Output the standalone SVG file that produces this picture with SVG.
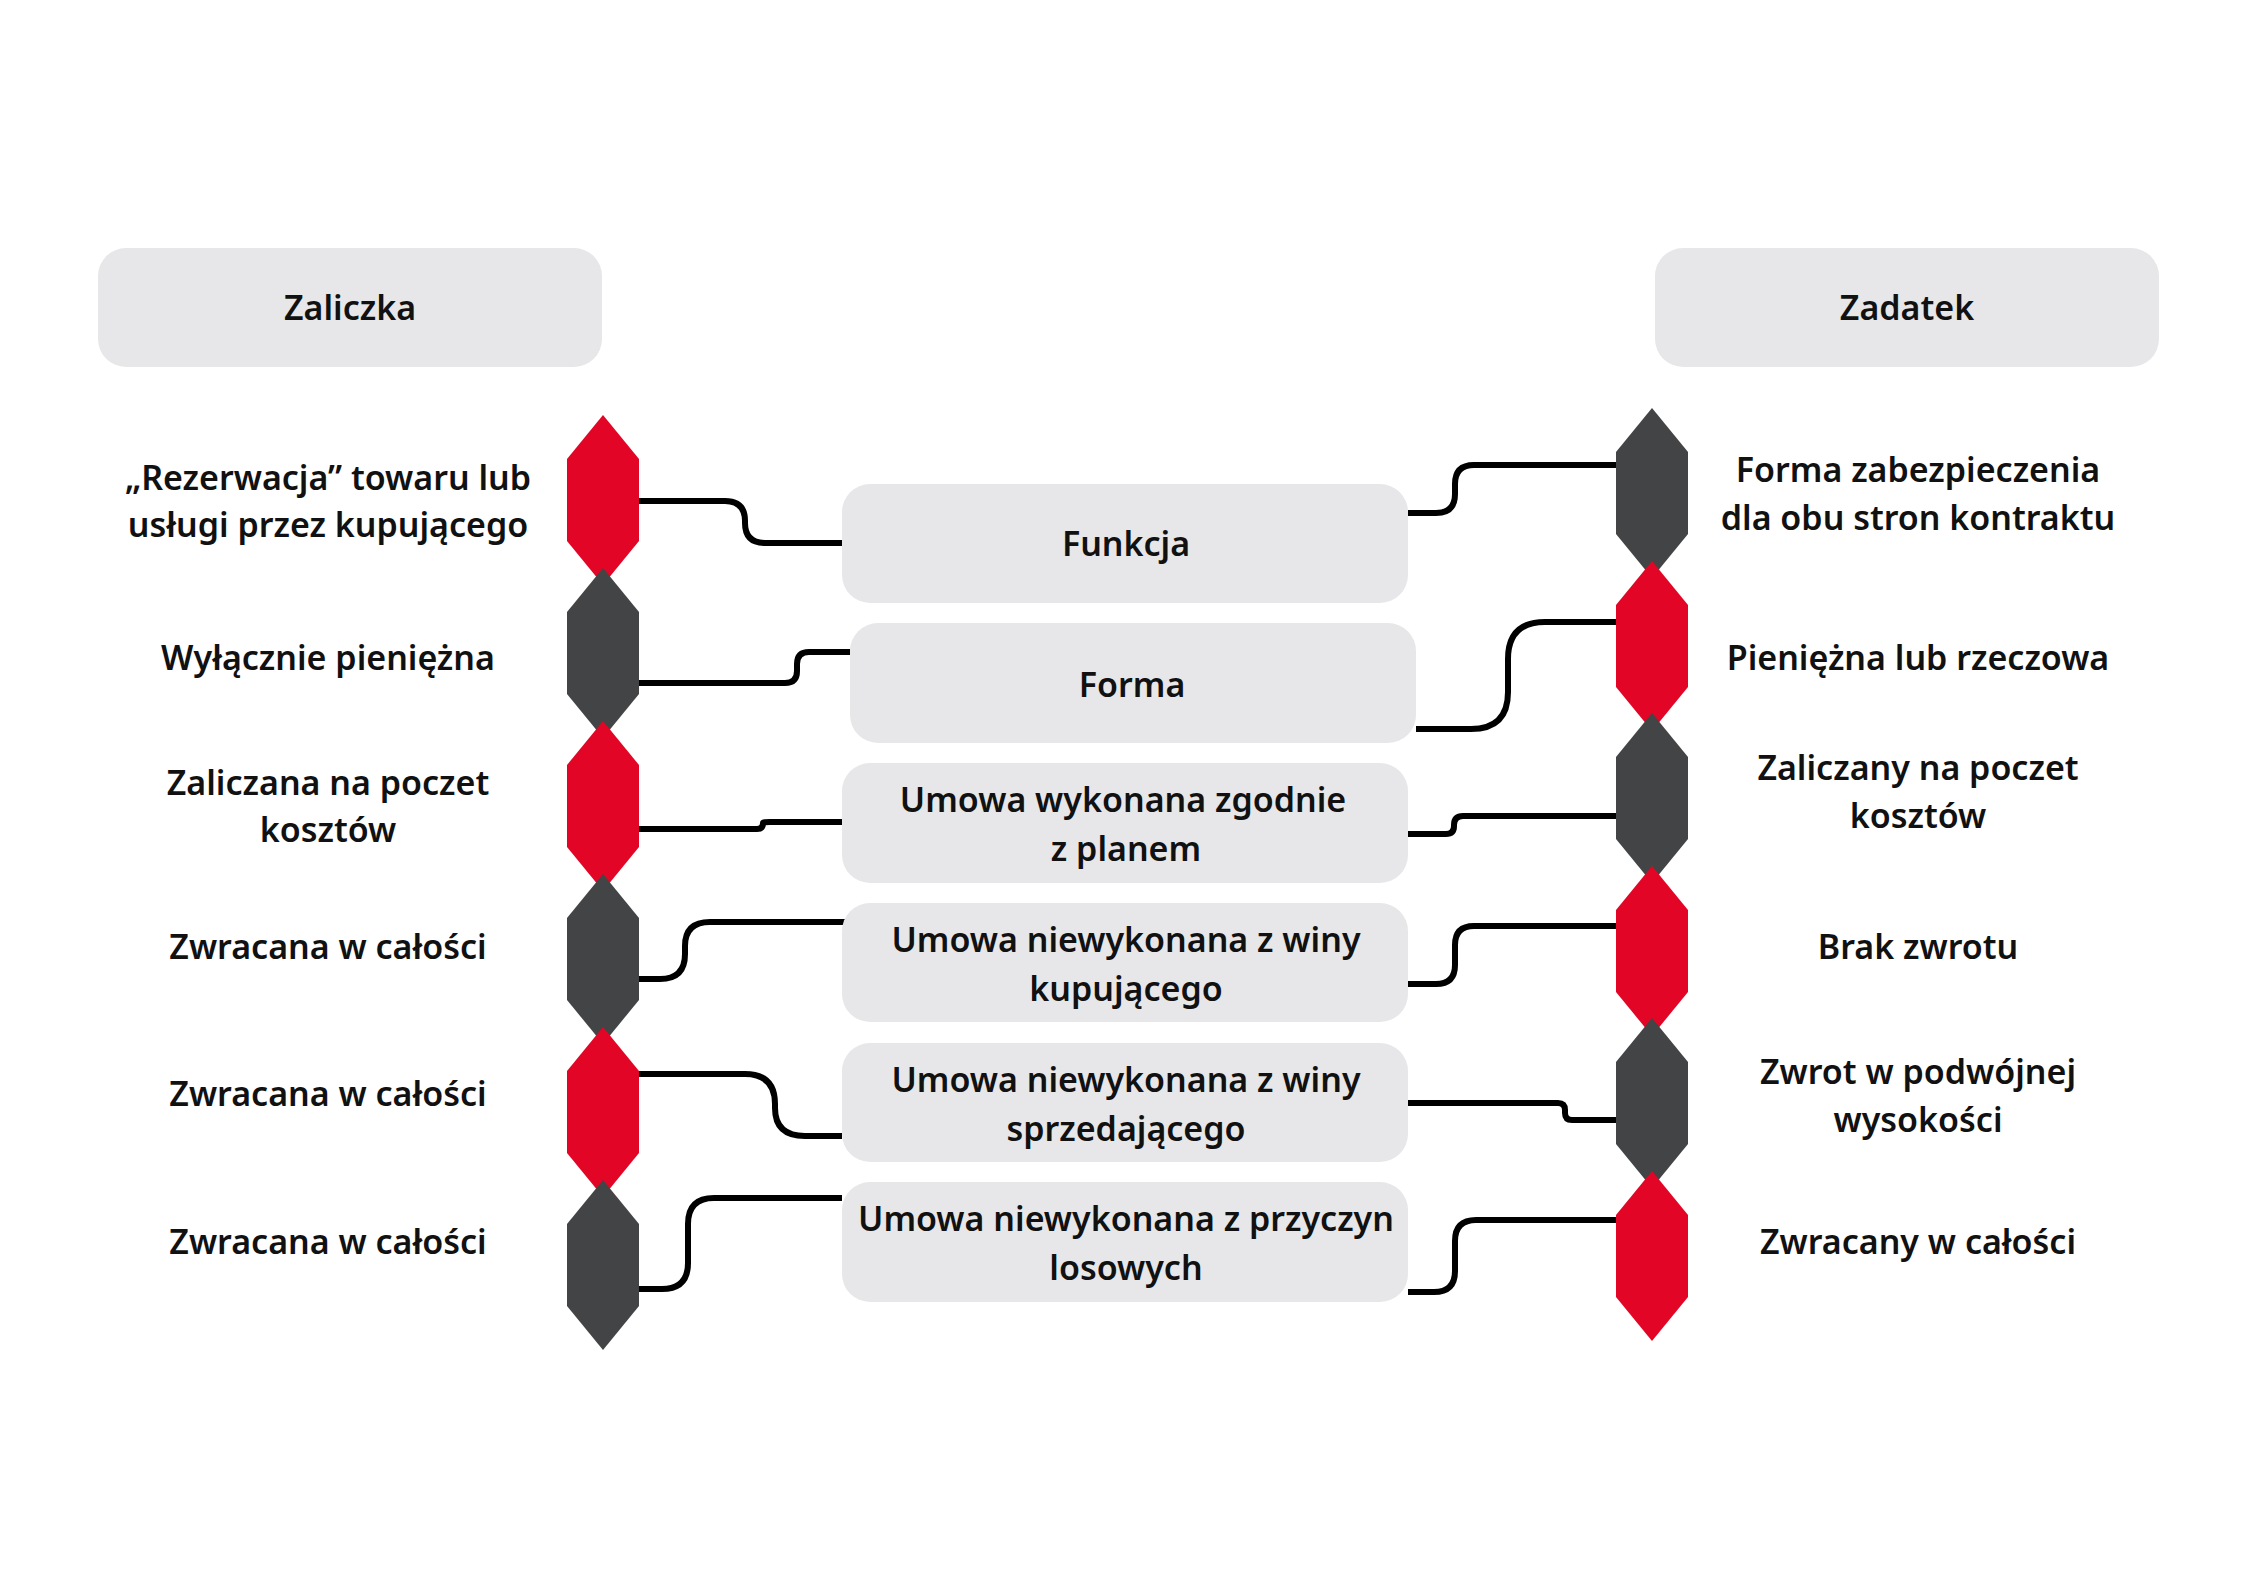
<svg xmlns="http://www.w3.org/2000/svg" width="2250" height="1591" viewBox="0 0 2250 1591">
<style>
.box{fill:#e7e7e9}
.t{font-family:"Noto Sans","Open Sans",sans-serif;font-weight:600;font-size:34px;fill:#111;text-anchor:middle;dominant-baseline:central}
.red{fill:#e30525}
.dark{fill:#434446}
.c{fill:none;stroke:#000;stroke-width:6}
</style>
<defs>
<polygon id="hex" points="0,0 36,44 36,126 0,170 -36,126 -36,44"/>
</defs>
<rect width="2250" height="1591" fill="#fff"/>
<g id="zaliczka"><rect class="box" x="98" y="248" width="504" height="119" rx="28"/><text class="t" x="350" y="307">Zaliczka</text></g>
<g id="zadatek"><rect class="box" x="1655" y="248" width="504" height="119" rx="28"/><text class="t" x="1907" y="307">Zadatek</text></g>

<g id="connectors">
<path class="c" d="M639,501 H725 Q745,501 745,521 V523 Q745,543 765,543 H842"/>
<path class="c" d="M639,683 H785 Q797,683 797,671 V664 Q797,652 809,652 H850"/>
<path class="c" d="M639,829 H757 Q763,829 763,823 Q763,822 770,822 H842"/>
<path class="c" d="M639,979 H660 Q685,979 685,954 V946 Q685,922 710,922 H850"/>
<path class="c" d="M639,1074 H745 Q775,1074 775,1104 V1108 Q775,1136 805,1136 H842"/>
<path class="c" d="M639,1289 H662 Q688,1289 688,1263 V1224 Q688,1198 714,1198 H842"/>
<path class="c" d="M1408,513 H1436 Q1455,513 1455,494 V484 Q1455,465 1474,465 H1617"/>
<path class="c" d="M1416,729 H1471 Q1508,729 1508,692 V659 Q1508,622 1545,622 H1617"/>
<path class="c" d="M1408,834 H1446 Q1454,834 1454,826 V825 Q1454,816 1463,816 H1617"/>
<path class="c" d="M1408,984 H1436 Q1455,984 1455,965 V945 Q1455,926 1474,926 H1617"/>
<path class="c" d="M1408,1103 H1558 Q1565,1103 1565,1110 V1113 Q1565,1120 1572,1120 H1617"/>
<path class="c" d="M1408,1292 H1434 Q1455,1292 1455,1271 V1241 Q1455,1220 1476,1220 H1617"/>
</g>

<g id="c1"><rect class="box" x="842" y="484" width="566" height="119" rx="28"/><text class="t" x="1126" y="543">Funkcja</text></g>
<g id="c2"><rect class="box" x="850" y="623" width="566" height="120" rx="28"/><text class="t" x="1132" y="684">Forma</text></g>
<g id="c3"><rect class="box" x="842" y="763" width="566" height="120" rx="28"/><text class="t" x="1123" y="799">Umowa wykonana zgodnie</text><text class="t" x="1126" y="848">z planem</text></g>
<g id="c4"><rect class="box" x="842" y="903" width="566" height="119" rx="28"/><text class="t" x="1126" y="939">Umowa niewykonana z winy</text><text class="t" x="1126" y="988">kupującego</text></g>
<g id="c5"><rect class="box" x="842" y="1043" width="566" height="119" rx="28"/><text class="t" x="1126" y="1079">Umowa niewykonana z winy</text><text class="t" x="1126" y="1128">sprzedającego</text></g>
<g id="c6"><rect class="box" x="842" y="1182" width="566" height="120" rx="28"/><text class="t" x="1126" y="1218">Umowa niewykonana z przyczyn</text><text class="t" x="1126" y="1267">losowych</text></g>

<g id="lhex">
<use href="#hex" class="red" x="603" y="415"/>
<use href="#hex" class="dark" x="603" y="568"/>
<use href="#hex" class="red" x="603" y="721"/>
<use href="#hex" class="dark" x="603" y="874"/>
<use href="#hex" class="red" x="603" y="1027"/>
<use href="#hex" class="dark" x="603" y="1180"/>
</g>
<g id="rhex">
<use href="#hex" class="dark" x="1652" y="408"/>
<use href="#hex" class="red" x="1652" y="561"/>
<use href="#hex" class="dark" x="1652" y="713"/>
<use href="#hex" class="red" x="1652" y="866"/>
<use href="#hex" class="dark" x="1652" y="1018"/>
<use href="#hex" class="red" x="1652" y="1171"/>
</g>

<g id="l1"><text class="t" x="328" y="477">„Rezerwacja” towaru lub</text><text class="t" x="328" y="524">usługi przez kupującego</text></g>
<g id="l2"><text class="t" x="328" y="657">Wyłącznie pieniężna</text></g>
<g id="l3"><text class="t" x="328" y="782">Zaliczana na poczet</text><text class="t" x="328" y="829">kosztów</text></g>
<g id="l4"><text class="t" x="328" y="946">Zwracana w całości</text></g>
<g id="l5"><text class="t" x="328" y="1093">Zwracana w całości</text></g>
<g id="l6"><text class="t" x="328" y="1241">Zwracana w całości</text></g>
<g id="r1"><text class="t" x="1918" y="469">Forma zabezpieczenia</text><text class="t" x="1918" y="517">dla obu stron kontraktu</text></g>
<g id="r2"><text class="t" x="1918" y="657">Pieniężna lub rzeczowa</text></g>
<g id="r3"><text class="t" x="1918" y="767">Zaliczany na poczet</text><text class="t" x="1918" y="815">kosztów</text></g>
<g id="r4"><text class="t" x="1918" y="946">Brak zwrotu</text></g>
<g id="r5"><text class="t" x="1918" y="1071">Zwrot w podwójnej</text><text class="t" x="1918" y="1119">wysokości</text></g>
<g id="r6"><text class="t" x="1918" y="1241">Zwracany w całości</text></g>
</svg>
